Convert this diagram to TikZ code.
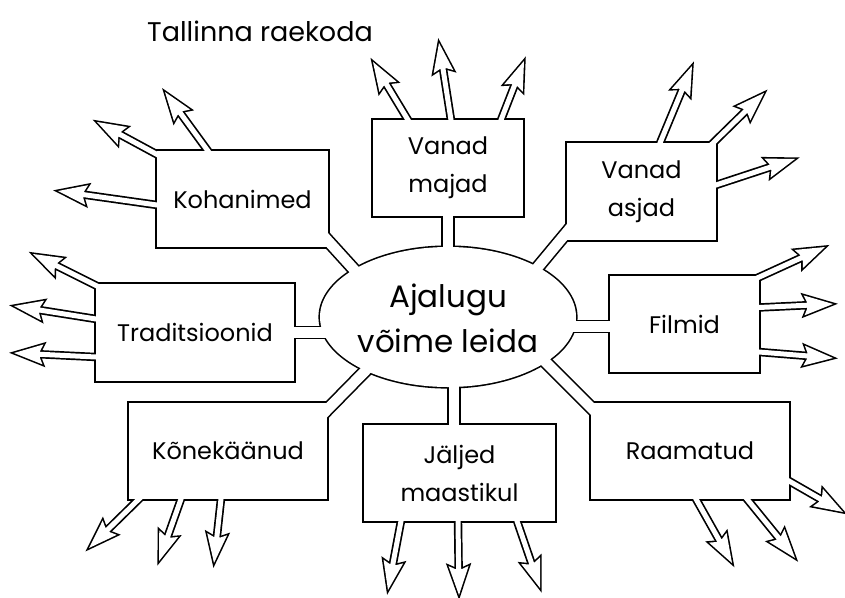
\documentclass[tikz,border=0pt]{standalone}
\usepackage{fontspec}
\setmainfont{Poppins}
\usetikzlibrary{calc,shapes.geometric}
\pgfdeclarelayer{bg}
\pgfsetlayers{bg,main}
\newcommand\defarrow[3]{%
  \coordinate (#1s) at #2;
  \coordinate (#1t) at #3;
  \coordinate (#1a) at ($(#1s)!-5pt!(#1t)$);
  \coordinate (#1b) at ($(#1t)!26pt!(#1s)$);
  \coordinate (#1c) at ($(#1t)!29pt!(#1s)$);
  \coordinate (#1e) at ($(#1t)!22pt!(#1s)$);
  \coordinate (#1l) at ($(#1c)!10pt!90:(#1t)$);
  \coordinate (#1r) at ($(#1c)!10pt!-90:(#1t)$);
  \coordinate (#1p) at ($(#1b)!3.4pt!90:(#1t)$);
  \coordinate (#1q) at ($(#1b)!3.4pt!-90:(#1t)$);
}
\newcommand\arrowblack[1]{%
  \draw[outerline, line width=8.4pt] (#1a) -- (#1b);
  \filldraw[outerline] (#1t) -- (#1l) -- (#1p) -- (#1q) -- (#1r) -- cycle;
}
\newcommand\arrowwhite[1]{%
  \draw[white, line width=5pt] (#1a) -- (#1e);
  \fill[white] (#1t) -- (#1l) -- (#1p) -- (#1q) -- (#1r) -- cycle;
}
\newcommand\boxblack[1]{\draw[outerline] (#1.north west) rectangle (#1.south east);}
\newcommand\boxwhite[1]{\fill[white] (#1.north west) rectangle (#1.south east);}
\tikzset{
  outerline/.style={black, line width=3.2pt, line join=miter},
  boxnode/.style={rectangle, inner sep=0pt, outer sep=0pt, align=center,
    font=\fontsize{24}{38}\selectfont},
  midtext/.style={ellipse, inner sep=0pt, outer sep=0pt, align=center,
    minimum width=256pt, minimum height=140pt, font=\fontsize{31}{45}\selectfont},
}
\begin{document}
\begin{tikzpicture}[x=1pt,y=-1pt]
\useasboundingbox (0,0) rectangle (845,597);
% nodes
\node[midtext] (c) at (448,318) {Ajalugu\\võime leida};
\node[boxnode, minimum width=171pt, minimum height=96pt] (koh) at (242.5,199) {Kohanimed};
\node[boxnode, minimum width=150pt, minimum height=96pt] (maj) at (448,168) {Vanad\\majad};
\node[boxnode, minimum width=149pt, minimum height=97pt] (asj) at (641.5,191.5) {Vanad\\asjad};
\node[boxnode, minimum width=149pt, minimum height=96pt] (fil) at (684.5,324) {Filmid};
\node[boxnode, minimum width=198pt, minimum height=96pt] (raa) at (690,451) {Raamatud};
\node[boxnode, minimum width=191pt, minimum height=96pt] (jal) at (459.5,473) {Jäljed\\maastikul};
\node[boxnode, minimum width=198pt, minimum height=96pt] (kon) at (228,451) {Kõnekäänud};
\node[boxnode, minimum width=198pt, minimum height=97pt] (tra) at (195,332.5) {Traditsioonid};
\node[boxnode, font=\fontsize{27}{32}\selectfont] (tal) at (260,31) {Tallinna raekoda};
% connector ends
\coordinate (ckoh1) at (321.5,233.7); \coordinate (ckoh2) at (361.8,278.1);
\coordinate (cmaj1) at (448,205);     \coordinate (cmaj2) at (448,260);
\coordinate (casj1) at (574.7,222.8); \coordinate (casj2) at (531.8,274.4);
\coordinate (cfil1) at (620,326.5);   \coordinate (cfil2) at (560,326.5);
\coordinate (craa1) at (600,416.6);   \coordinate (craa2) at (539.8,356.3);
\coordinate (cjal1) at (454,440);     \coordinate (cjal2) at (454,370);
\coordinate (ckon1) at (320,417);     \coordinate (ckon2) at (373,363);
\coordinate (ctra1) at (280,332.5);   \coordinate (ctra2) at (335,332.5);
% arrows
\defarrow{k1}{(208,151)}{(165,92)}
\defarrow{k2}{(158,155)}{(97,122)}
\defarrow{k3}{(157,205)}{(58,191)}
\defarrow{m1}{(408,120)}{(373,62)}
\defarrow{m2}{(451,120)}{(439,43)}
\defarrow{m3}{(501,120)}{(524,61)}
\defarrow{a1}{(660,143)}{(692,66)}
\defarrow{a2}{(711,145)}{(764,93)}
\defarrow{a3}{(716,185)}{(795,159)}
\defarrow{f1}{(755,279)}{(825,247)}
\defarrow{f2}{(759,307.5)}{(833,304)}
\defarrow{f3}{(759,352)}{(833,358)}
\defarrow{r1}{(696,499)}{(732,563)}
\defarrow{r2}{(747,499)}{(795,558)}
\defarrow{r3}{(789,481)}{(843,512)}
\defarrow{j1}{(401,521)}{(388,590)}
\defarrow{j2}{(458,521)}{(459,595)}
\defarrow{j3}{(517,521)}{(540,588)}
\defarrow{o1}{(139,499)}{(89,548)}
\defarrow{o2}{(181,499)}{(159,561)}
\defarrow{o3}{(221,499)}{(214,563)}
\defarrow{t1}{(97,286)}{(33,254)}
\defarrow{t2}{(96,319)}{(14,306)}
\defarrow{t3}{(96,357)}{(14,353)}
\begin{pgfonlayer}{bg}
\fill[white] (0,0) rectangle (845,597);
% pass 1: black outlines
\draw[outerline] (448,317) ellipse [x radius=128pt, y radius=70pt];
\foreach \b in {koh,maj,asj,fil,raa,jal,kon,tra} {\boxblack{\b}}
\foreach \b in {koh,maj,asj,fil,raa,jal,kon,tra} {\draw[black, line width=13.6pt] (c\b1) -- (c\b2);}
\foreach \a in {k1,k2,k3,m1,m2,m3,a1,a2,a3,f1,f2,f3,r1,r2,r3,j1,j2,j3,o1,o2,o3,t1,t2,t3} {\arrowblack{\a}}
% pass 2: white interiors
\fill[white] (448,317) ellipse [x radius=128pt, y radius=70pt];
\foreach \b in {koh,maj,asj,fil,raa,jal,kon,tra} {\boxwhite{\b}}
\foreach \b in {koh,maj,asj,fil,raa,jal,kon,tra} {\draw[white, line width=10.4pt] (c\b1) -- (c\b2);}
\foreach \a in {k1,k2,k3,m1,m2,m3,a1,a2,a3,f1,f2,f3,r1,r2,r3,j1,j2,j3,o1,o2,o3,t1,t2,t3} {\arrowwhite{\a}}
\end{pgfonlayer}
\end{tikzpicture}
\end{document}
